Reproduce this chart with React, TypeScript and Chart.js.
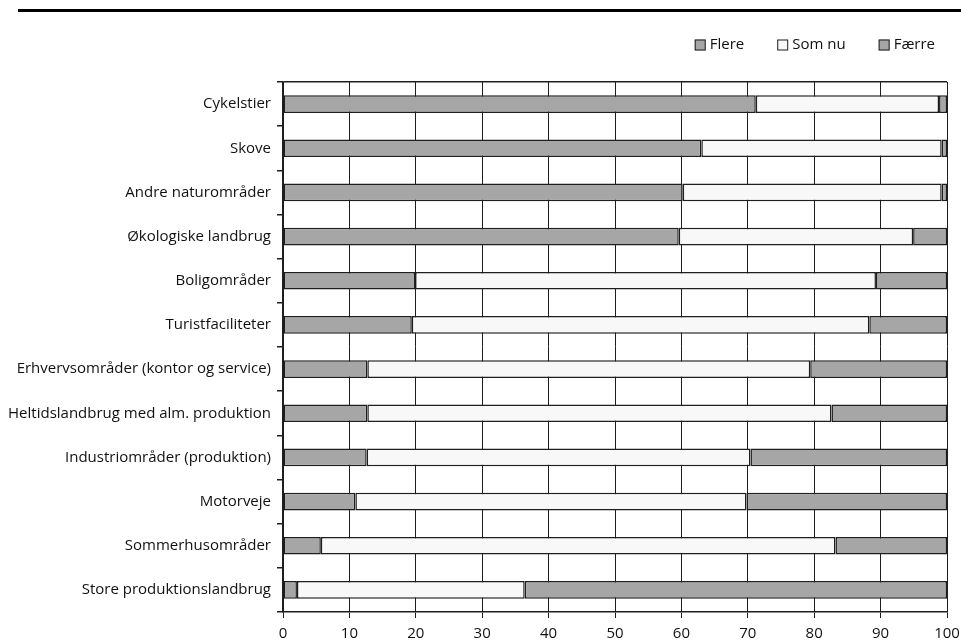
import React, { useEffect, useRef } from "react";
import { Chart, registerables } from "chart.js";

Chart.register(...registerables);

const categories = [
  "Cykelstier",
  "Skove",
  "Andre naturområder",
  "Økologiske landbrug",
  "Boligområder",
  "Turistfaciliteter",
  "Erhvervsområder (kontor og service)",
  "Heltidslandbrug med alm. produktion",
  "Industriområder (produktion)",
  "Motorveje",
  "Sommerhusområder",
  "Store produktionslandbrug",
];
const flere = [71.2, 63.0, 60.2, 59.6, 19.9, 19.4, 12.7, 12.7, 12.6, 10.9, 5.7, 2.1];
const somNu = [27.6, 36.2, 39.0, 35.3, 69.4, 68.9, 66.7, 69.9, 57.8, 58.9, 77.5, 34.3];
const faerre = [1.2, 0.8, 0.8, 5.1, 10.7, 11.7, 20.6, 17.4, 29.6, 30.2, 16.8, 63.6];
const seriesNames = ["Flere", "Som nu", "Færre"];
const xTicks = [0, 10, 20, 30, 40, 50, 60, 70, 80, 90, 100];

const GRAY = "#a6a6a6";
const LIGHT = "#f8f8f8";
const LINE = "#1e1e1e";
const FONT = '"Open Sans", sans-serif';
const FS = 15;

const decor = {
  id: "decor",
  afterDraw(chart: any) {
    const ctx = chart.ctx;
    ctx.save();
    ctx.fillStyle = "#000";
    ctx.fillRect(18, 9, 961 - 18, 3);
    ctx.font = `${FS}px ${FONT}`;
    ctx.textBaseline = "middle";
    ctx.textAlign = "left";
    const ds = chart.data.datasets;
    let x = 935;
    const cy = 45;
    for (let i = ds.length - 1; i >= 0; i--) {
      const label = ds[i].label;
      const w = ctx.measureText(label).width;
      const tx = x - w;
      const bx = tx - 4 - 11;
      ctx.fillStyle = ds[i].backgroundColor;
      ctx.fillRect(bx, cy - 5.5, 11, 11);
      ctx.strokeStyle = LINE;
      ctx.lineWidth = 1;
      ctx.strokeRect(bx + 0.5, cy - 5, 10, 10);
      ctx.fillStyle = "#111";
      ctx.fillText(label, tx, cy);
      x = bx - 33;
    }
    ctx.restore();
  },
};

export default function App() {
  const ref = useRef<HTMLCanvasElement>(null);
  useEffect(() => {
    if (!ref.current) return;
    const colors = [GRAY, LIGHT, GRAY];
    const values = [flere, somNu, faerre];
    const chart = new Chart(ref.current, {
      type: "bar",
      data: {
        labels: categories,
        datasets: seriesNames.map((name, i) => ({
          label: name,
          data: values[i],
          backgroundColor: colors[i],
          borderColor: LINE,
          borderWidth: 1.5,
          borderSkipped: false,
          categoryPercentage: 1,
          barPercentage: 0.4,
        })),
      },
      options: {
        indexAxis: "y",
        responsive: false,
        animation: false,
        layout: { padding: { top: 82, right: 14, bottom: 0, left: 0 } },
        plugins: { legend: { display: false }, tooltip: { enabled: false } },
        scales: {
          x: {
            stacked: true,
            min: 0,
            max: 100,
            afterBuildTicks: (scale: any) => {
              scale.ticks = xTicks.map((v) => ({ value: v }));
            },
            afterFit: (scale: any) => {
              scale.height = 31;
              scale.paddingLeft = 0;
              scale.paddingRight = 0;
            },
            grid: { color: LINE, lineWidth: 1, tickLength: 6, tickColor: LINE },
            border: { color: LINE, width: 1.5 },
            ticks: { color: "#111", font: { family: FONT, size: FS }, padding: 7, maxRotation: 0 },
          },
          y: {
            stacked: true,
            afterFit: (scale: any) => {
              scale.width = 283;
              scale.paddingTop = 0;
              scale.paddingBottom = 0;
            },
            grid: {
              offset: true,
              color: (c: any) => (c.index === 0 ? LINE : "rgba(0,0,0,0)"),
              tickColor: LINE,
              tickLength: 6,
              lineWidth: 1.5,
            },
            border: { color: LINE, width: 1.5 },
            ticks: { color: "#111", font: { family: FONT, size: FS }, padding: 6 },
          },
        },
      },
      plugins: [decor],
    });
    return () => chart.destroy();
  }, []);
  return (
    <div style={{ position: "absolute", left: 0, top: 0, width: 961, height: 643, background: "#fff" }}>
      <canvas ref={ref} width={961} height={643} />
    </div>
  );
}
